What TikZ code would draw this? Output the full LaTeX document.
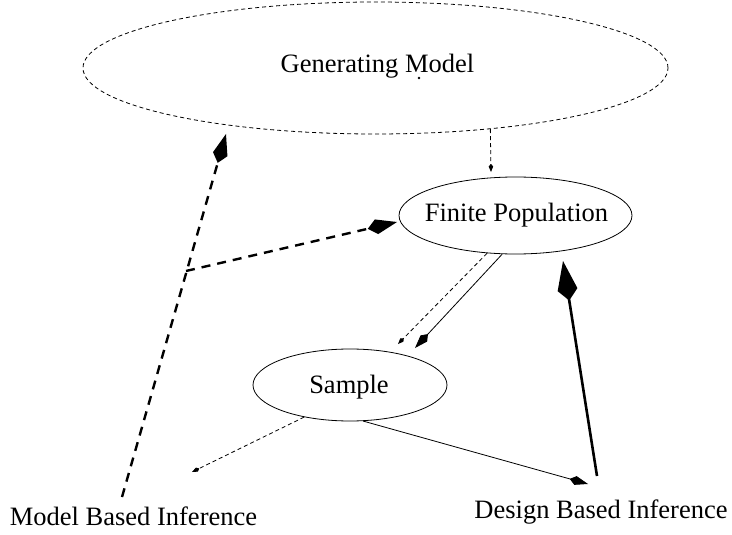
\documentclass[tikz,border=0pt]{standalone}
\usepackage{fontspec}
\setmainfont{Liberation Serif}
\usetikzlibrary{arrows.meta,shapes.geometric}
\begin{document}
\begin{tikzpicture}[x=1pt,y=-1pt,
  lbl/.style={font=\fontsize{26.5}{30}\selectfont, inner sep=0pt},
  ell/.style={ellipse, draw, line width=0.8pt, inner sep=0pt, font=\fontsize{26.5}{30}\selectfont},
  thindash/.style={line width=0.8pt, dash pattern=on 4pt off 3pt},
  thickdash/.style={line width=2.4pt, dash pattern=on 9pt off 7pt},
  bigkite/.style={-{Kite[length=30pt,width=15pt,inset=9pt]}},
  hugekite/.style={-{Kite[length=40pt,width=20pt,inset=11pt]}},
  midkite/.style={-{Kite[length=19pt,width=9pt,inset=6pt]}},
  smallkite/.style={-{Kite[length=8pt,width=4.5pt,inset=2.5pt]}}
]
\useasboundingbox (0,0) rectangle (732,535);

% ellipses
\node[ell, dash pattern=on 4pt off 3pt, minimum width=585pt, minimum height=132pt] (gm) at (375.5,68) {};
\node[lbl, anchor=base] (gmt) at (377.5,73) {Generating Model};
\fill (419,78) circle (1.3pt);
\node[ell, minimum width=233pt, minimum height=77pt] (fp) at (515.5,215.5) {};
\node[lbl, anchor=base] (fpt) at (516.5,222) {Finite Population};
\node[ell, minimum width=194pt, minimum height=72pt] (sm) at (350,385) {};
\node[lbl, anchor=base] (smt) at (349,393) {Sample};

% labels
\node[lbl, anchor=base] (mbi) at (133.5,525) {Model Based Inference};
\node[lbl, anchor=base] (dbi) at (601,518) {Design Based Inference};

% coordinates
\coordinate (mbitop) at (122,497);
\coordinate (gmtip) at (226,134);
\coordinate (br) at (186,271);
\coordinate (fptip) at (397,222);
\coordinate (fpin) at (491,172);
\coordinate (smtipa) at (398,344);
\coordinate (smtipb) at (415,348);
\coordinate (mbitip) at (192,472);
\coordinate (dbitip) at (588,484);
\coordinate (dbitop) at (597,476);
\coordinate (fpup) at (563,261);

% connectors
\draw[thickdash, bigkite] (mbitop) -- (gmtip);
\draw[thickdash, bigkite] (br) -- (fptip);
\draw[thindash, smallkite] (gm.332.5) -- (fpin);
\draw[thindash, smallkite] (fp.233) -- (smtipa);
\draw[line width=0.8pt, midkite] (fp.251) -- (smtipb);
\draw[thindash, smallkite] (sm.215) -- (mbitip);
\draw[line width=0.8pt, midkite] (sm.290) -- (dbitip);
\draw[line width=2.6pt, hugekite] (dbitop) -- (fpup);
\end{tikzpicture}
\end{document}
